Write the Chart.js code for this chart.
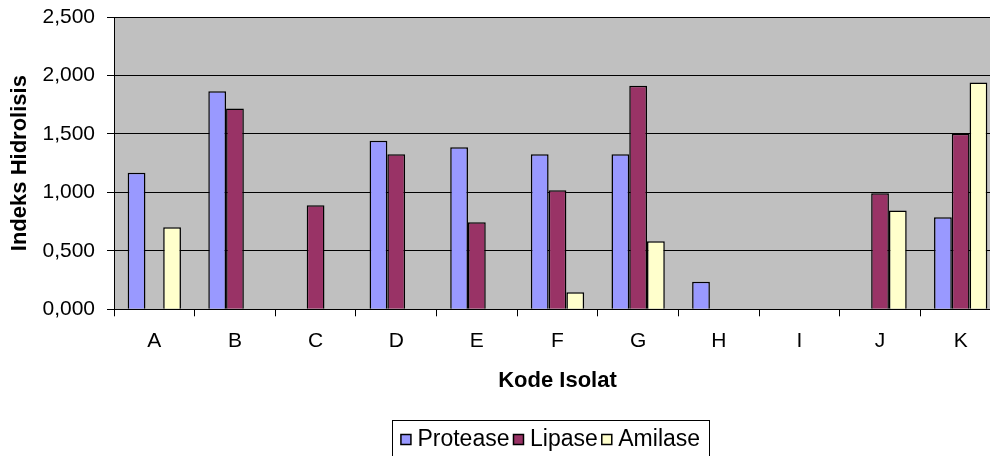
<!DOCTYPE html>
<html>
<head>
<meta charset="utf-8">
<script src="https://cdn.jsdelivr.net/npm/chart.js@4/dist/chart.umd.min.js"></script>
<style>
  html, body { margin: 0; padding: 0; background: #fff; overflow: hidden; width: 990px; height: 456px; }
  #c { display: block; }
</style>
</head>
<body>
<canvas id="c" width="1001" height="461" style="width:1001px;height:461px"></canvas>
<script>
const categories = ['A','B','C','D','E','F','G','H','I','J','K'];
const protease = [1.167, 1.866, 0, 1.441, 1.387, 1.327, 1.327, 0.236, 0, 0, 0.788];
const lipase   = [0, 1.717, 0.890, 1.327, 0.745, 1.019, 1.912, 0, 0, 0.993, 1.501];
const amilase  = [0.702, 0, 0, 0, 0, 0.146, 0.582, 0, 0, 0.844, 1.940];
const yTicks = [0, 0.5, 1.0, 1.5, 2.0, 2.5];

const FONT = 'Liberation Sans, Arial, sans-serif';

const plotBg = {
  id: 'plotBg',
  beforeDraw(chart) {
    const {ctx, chartArea: a} = chart;
    ctx.save();
    ctx.fillStyle = '#C0C0C0';
    ctx.fillRect(a.left, a.top, a.right - a.left, a.bottom - a.top);
    ctx.restore();
  }
};

const legendShift = {
  id: 'legendShift',
  afterLayout(chart) {
    const lg = chart.legend;
    if (lg) { lg.left = chart.chartArea.left; lg.right = chart.chartArea.right - 9; }
  }
};

const legendFrame = {
  id: 'legendFrame',
  afterDraw(chart) {
    const hb = chart.legend.legendHitBoxes;
    if (!hb || !hb.length) return;
    const first = hb[0], last = hb[hb.length - 1];
    const ctx = chart.ctx;
    ctx.save();
    ctx.strokeStyle = '#000';
    ctx.lineWidth = 1;
    const l = Math.round(first.left - 14) + 0.5;
    const r = Math.round(last.left + last.width + 9) + 0.5;
    const t = Math.round(first.top + first.height / 2 - 20) + 0.5;
    const b = t + 42;
    ctx.strokeRect(l, t, r - l, b - t);
    ctx.restore();
  }
};

new Chart(document.getElementById('c'), {
  type: 'bar',
  data: {
    labels: categories,
    datasets: [
      { label: 'Protease', data: protease, backgroundColor: '#9999FF', borderColor: '#000', borderWidth: 1.5 },
      { label: 'Lipase', data: lipase, backgroundColor: '#993366', borderColor: '#000', borderWidth: 1.5 },
      { label: 'Amilase', data: amilase, backgroundColor: '#FFFFCC', borderColor: '#000', borderWidth: 1.5 }
    ]
  },
  options: {
    responsive: false,
    animation: false,
    devicePixelRatio: 1,
    layout: { padding: { top: 17, left: 0, right: 0, bottom: 0 } },
    datasets: { bar: { categoryPercentage: 0.661, barPercentage: 1.0 } },
    plugins: {
      legend: {
        position: 'bottom',
        labels: {
          usePointStyle: true, pointStyle: 'rect',
          boxWidth: 0.01, boxHeight: 10, padding: 9,
          color: '#000',
          font: { family: FONT, size: 23 }
        }
      },
      tooltip: { enabled: false }
    },
    scales: {
      x: {
        afterFit(scale) { scale.height = 109.7; scale.paddingLeft = 0; scale.paddingRight = 0; },
        grid: { display: true, drawOnChartArea: false, drawTicks: true, tickLength: 7, color: '#000', offset: true },
        border: { color: '#000', width: 1 },
        ticks: { color: '#000', padding: 12, font: { family: FONT, size: 21 }, maxRotation: 0 },
        title: {
          display: true, text: 'Kode Isolat', color: '#000',
          font: { family: FONT, size: 22, weight: 'bold' },
          padding: { top: 0, bottom: 24.8 }
        }
      },
      y: {
        min: 0, max: 2.5,
        afterFit(scale) { scale.width = 114; scale.paddingTop = 0; scale.paddingBottom = 0; },
        afterBuildTicks(scale) { scale.ticks = yTicks.map(v => ({ value: v })); },
        grid: { color: '#000', lineWidth: 1, tickLength: 7, drawTicks: true },
        border: { color: '#000', width: 1 },
        ticks: {
          color: '#000', padding: 12,
          font: { family: FONT, size: 21 },
          callback: (v) => Number(v).toFixed(3).replace('.', ',')
        },
        title: {
          display: true, text: 'Indeks Hidrolisis', color: '#000',
          font: { family: FONT, size: 22, weight: 'bold' },
          padding: { top: 6.8, bottom: 0 }
        }
      }
    }
  },
  plugins: [plotBg, legendShift, legendFrame]
});
</script>
</body>
</html>
